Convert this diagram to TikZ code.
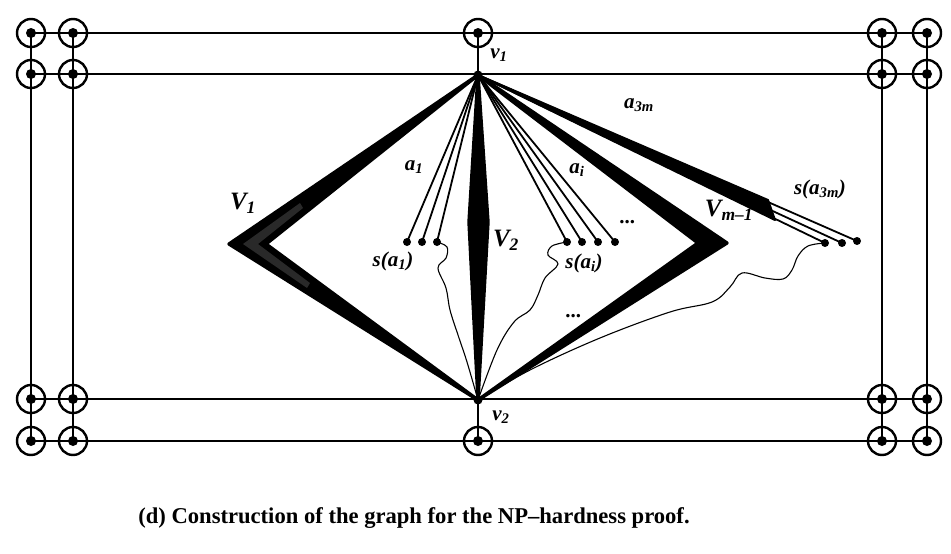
\documentclass[tikz,border=0pt]{standalone}
\usepackage{fontspec}
\setmainfont{Liberation Serif}
\begin{document}
\begin{tikzpicture}[x=1pt,y=-1pt,
  ring/.style={circle, draw, line width=2.4pt, minimum size=28pt, inner sep=0pt},
  bigdot/.style={circle, fill, inner sep=0pt, minimum size=10pt},
  sdot/.style={circle, fill, inner sep=0pt, minimum size=8pt},
  frameline/.style={line width=1.8pt},
  wedge/.style={fill=black, draw=black, line width=3.4pt, line join=round},
  bundle/.style={line width=1.8pt},
  wavy/.style={line width=1.1pt},
  lbl/.style={font=\fontsize{21}{21}\selectfont\bfseries\itshape, inner sep=0pt},
  biglbl/.style={font=\fontsize{25}{25}\selectfont\bfseries\itshape, inner sep=0pt},
  caption/.style={font=\fontsize{22.6}{22.6}\selectfont\bfseries, inner sep=0pt}]
\useasboundingbox (0,0) rectangle (951,554);

% frame rings
\foreach \x/\c in {31/1,73/2,882/3,927/4}
  \foreach \y/\r in {33/1,74/2,399/3,441/4}
    \node[ring] (r\r\c) at (\x,\y) {};
\node[ring] (rt) at (478,33) {};
\node[ring] (rb) at (478,441) {};

% frame lines
\foreach \r in {1,2,3,4} \draw[frameline] (r\r1.center) -- (r\r4.center);
\foreach \c in {1,2,3,4} \draw[frameline] (r1\c.center) -- (r4\c.center);

% central vertices
\node[bigdot, minimum size=9pt] (v1) at (478,75) {};
\node[bigdot, minimum size=9pt] (v2) at (478,400) {};
\draw[frameline] (rt.center) -- (v1.center);
\draw[frameline] (rb.center) -- (v2.center);

% dots inside rings
\foreach \r in {1,2,3,4} \foreach \c in {1,2,3,4} \node[bigdot] at (r\r\c) {};
\node[bigdot] at (rt) {};
\node[bigdot] at (rb) {};

% wedges
\coordinate (V1o) at (229,244);
\coordinate (V1i) at (266,244);
\coordinate (V2l) at (469,222);
\coordinate (V2r) at (488,222);
\coordinate (Vmo) at (727,243);
\coordinate (Vmi) at (698,243);
\filldraw[wedge] (v1.center) -- (V1o) -- (v2.center) -- (V1i) -- cycle;
\fill[black!84] (243,244) -- (300,203) -- (303,208) -- (258,244) -- (310,283) -- (307,288) -- cycle;
\filldraw[wedge] (v1.center) -- (V2l) -- (v2.center) -- (V2r) -- cycle;
\filldraw[wedge] (v1.center) -- (Vmo) -- (v2.center) -- (Vmi) -- cycle;

% s(a_1) dots
\node[sdot] (s11) at (407,242) {};
\node[sdot] (s12) at (422,242) {};
\node[sdot] (s13) at (437,242) {};
% s(a_i) dots
\node[sdot] (si1) at (567,242) {};
\node[sdot] (si2) at (582,242) {};
\node[sdot] (si3) at (598,242) {};
\node[sdot] (si4) at (615,242) {};
% s(a_3m) dots
\node[sdot] (sm1) at (825,243) {};
\node[sdot] (sm2) at (842,243) {};
\node[sdot] (sm3) at (857,241) {};

\foreach \n in {s11,s12,s13,si1,si2,si3,si4,sm1,sm2,sm3}
  \draw[bundle] (v1.center) -- (\n.center);
\coordinate (bu) at (768,200);
\coordinate (bl) at (775,220);
\filldraw[line width=2pt, line join=round] (v1.center) -- (bu) -- (bl) -- cycle;

% wavy connections to v2
\draw[wavy] plot[smooth, tension=0.6] coordinates {(s13) (447,247) (446,258) (438,268) (446,288) (450,310) (458,335) (467,362) (v2)};
\draw[wavy] plot[smooth, tension=0.6] coordinates {(si1) (552,246) (548,255) (558,264) (545,278) (538,295) (530,310) (514,322) (497,350) (v2)};
\draw[wavy] plot[smooth, tension=0.6] coordinates {(sm1) (808,246) (798,256) (792,270) (783,279) (765,278) (742,273) (730,287) (712,302) (670,312) (600,338) (530,370) (v2)};

% labels
\node[lbl] (lv1) at (499,55) {v\textsubscript{1}};
\node[lbl] (lv2) at (501,417) {v\textsubscript{2}};
\node[biglbl] (lV1) at (243,203) {V\textsubscript{1}};
\node[biglbl] (lV2) at (506,240) {V\textsubscript{2}};
\node[biglbl] (lVm) at (729,210) {V\textsubscript{m--1}};
\node[lbl] (la1) at (414,167) {a\textsubscript{1}};
\node[lbl] (lai) at (577,170) {a\textsubscript{i}};
\node[lbl] (la3m) at (639,105) {a\textsubscript{3m}};
\node[lbl] (ls1) at (393,261) {s(a\textsubscript{1})};
\node[lbl] (lsi) at (584,263) {s(a\textsubscript{i})};
\node[lbl] (ls3m) at (820,189) {s(a\textsubscript{3m})};
\node[lbl] (dots1) at (628,222) {...};
\node[lbl] (dots2) at (574,316) {...};

\node[caption] (cap) at (414,518) {(d) Construction of the graph for the NP--hardness proof.};
\end{tikzpicture}
\end{document}
